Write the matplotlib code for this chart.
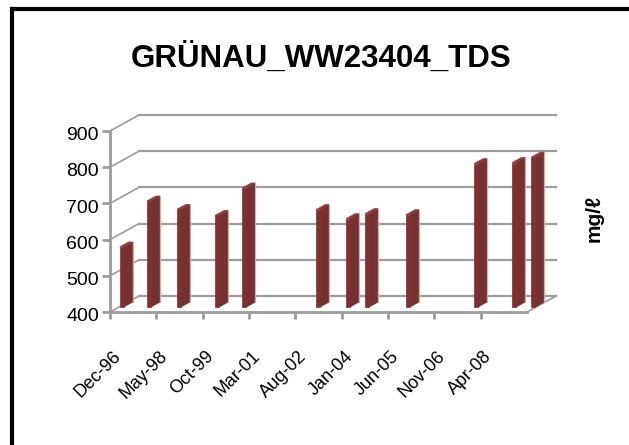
import matplotlib.pyplot as plt
from matplotlib.patches import Polygon
from matplotlib.lines import Line2D
from matplotlib.transforms import ScaledTranslation

plt.rcParams['font.family'] = ['Liberation Sans', 'DejaVu Sans']

# TDS samples (sampling month, mg/l)
sample_dates = ['1997-01', '1997-11', '1998-10', '1999-12', '2000-10', '2003-01',
                '2003-12', '2004-07', '2005-10', '2007-11', '2009-01', '2009-08']
tds = [566, 693, 670, 653, 729, 669, 644, 658, 655, 796, 799, 814]

tick_labels = ['Dec-96', 'May-98', 'Oct-99', 'Mar-01', 'Aug-02',
               'Jan-04', 'Jun-05', 'Nov-06', 'Apr-08']
y_ticks = [400, 500, 600, 700, 800, 900]

title = 'GRÜNAU_WW23404_TDS'
unit = 'mg/ℓ'


def months_since_start(s):
    y, m = s.split('-')
    return (int(y) - 1996) * 12 + int(m) - 12


months = [months_since_start(d) for d in sample_dates]
step = 17
x_end = step * len(tick_labels)
ymin, ymax = y_ticks[0], y_ticks[-1]

# oblique depth of the 3d box, in data units
DX = 10.64
DY = 44.2
grid_c = '#9c9c9c'

fig = plt.figure(figsize=(6.29, 4.45), dpi=100)
ax = fig.add_axes([110 / 629, 133 / 445, 446 / 629, 197 / 445])
ax.set_xlim(0, x_end + DX)
ax.set_ylim(ymin, ymax + DY)
ax.patch.set_visible(False)

# back wall + side wall grid
for v in y_ticks:
    ax.plot([DX, x_end + DX], [v + DY, v + DY], color=grid_c, lw=1.6,
            clip_on=False, zorder=1)
    ax.plot([0, DX], [v, v + DY], color=grid_c, lw=1.2, clip_on=False, zorder=1)
# floor right edge
ax.plot([x_end, x_end + DX], [ymin, ymin + DY], color=grid_c, lw=1.2,
        clip_on=False, zorder=1)

# columns
w = 1.47
z0, z1 = 0.31, 0.62
front_c = '#7e3131'
side_c = '#773030'
top_c = '#8c3a3a'
for m, v in zip(months, tds):
    xl, xr = m - w / 2, m + w / 2
    fx0, fy0 = z0 * DX, z0 * DY
    fx1, fy1 = z1 * DX, z1 * DY
    front = [(xl + fx0, ymin + fy0), (xr + fx0, ymin + fy0),
             (xr + fx0, v + fy0), (xl + fx0, v + fy0)]
    side = [(xr + fx0, ymin + fy0), (xr + fx1, ymin + fy1),
            (xr + fx1, v + fy1), (xr + fx0, v + fy0)]
    top = [(xl + fx0, v + fy0), (xr + fx0, v + fy0),
           (xr + fx1, v + fy1), (xl + fx1, v + fy1)]
    for pts, c in [(side, side_c), (front, front_c), (top, top_c)]:
        ax.add_patch(Polygon(pts, closed=True, facecolor=c, edgecolor=c,
                             lw=0.5, clip_on=False, zorder=3))
    ax.plot([xr + fx1, xr + fx1], [ymin + fy1, v + fy1], color='#dba6a6',
            lw=0.9, clip_on=False, zorder=4)

# axes, ticks and labels
for s in ['top', 'right']:
    ax.spines[s].set_visible(False)
ax.spines['left'].set_bounds(ymin, ymax)
ax.spines['bottom'].set_bounds(0, x_end)
for s in ['left', 'bottom']:
    ax.spines[s].set_color(grid_c)
    ax.spines[s].set_linewidth(2)
    ax.spines[s].set_zorder(2)

ax.set_yticks(y_ticks)
ax.set_yticklabels([str(v) for v in y_ticks], fontsize=14)
ax.tick_params(axis='y', length=6, width=2, color=grid_c, pad=2)
for lbl in ax.get_yticklabels():
    lbl.set_transform(lbl.get_transform() + ScaledTranslation(0, -2 / 72, fig.dpi_scale_trans))

ax.set_xticks([i * step for i in range(len(tick_labels))])
ax.set_xticklabels(tick_labels, fontsize=13, rotation=45, ha='right', va='center',
                   rotation_mode='anchor')
ax.tick_params(axis='x', length=5, width=2, color=grid_c, pad=25)
for lbl in ax.get_xticklabels():
    lbl.set_transform(lbl.get_transform() + ScaledTranslation(6 / 72, 0, fig.dpi_scale_trans))

fig.text(321 / 629, 1 - 67 / 445, title, fontsize=22.5, fontweight='bold',
         ha='center', va='baseline')
fig.text(594 / 629, 1 - 218 / 445, unit, fontsize=15, fontweight='bold',
         rotation=90, ha='center', va='center')

# outer frame (top and left edges)
fig.add_artist(Line2D([12 / 629, 1], [1 - 9 / 445, 1 - 9 / 445], color='black',
                      lw=3, solid_capstyle='projecting'))
fig.add_artist(Line2D([12 / 629, 12 / 629], [1 - 9 / 445, 2 / 445], color='black',
                      lw=3, solid_capstyle='projecting'))

fig.savefig('out.png', dpi=100)
